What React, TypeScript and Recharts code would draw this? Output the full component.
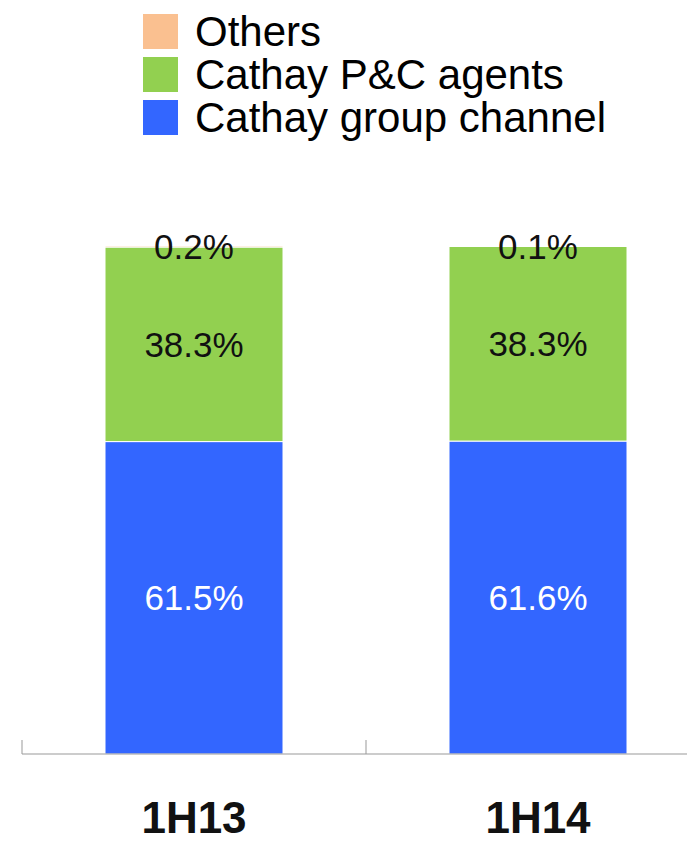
import { BarChart, Bar, XAxis, YAxis, Legend, LabelList } from 'recharts';

const periods = ['1H13', '1H14'];
const groupChannel = [61.5, 61.6];
const pcAgents = [38.3, 38.3];
const others = [0.2, 0.1];
const legendOrder = ['Others', 'Cathay P&C agents', 'Cathay group channel'];

const data = periods.map((p, i) => ({
    period: p,
    group: groupChannel[i],
    agents: pcAgents[i],
    others: others[i],
}));

const FONT = '"Liberation Sans", Arial, sans-serif';

const fmt = (v: any) => `${Number(v).toFixed(1)}%`;

const LegendBox = (props: any) => {
    const items = [...(props.payload || [])].sort(
        (a: any, b: any) => legendOrder.indexOf(a.value) - legendOrder.indexOf(b.value)
    );
    return (
        <div style={{ fontFamily: FONT, paddingLeft: 135, paddingTop: 2 }}>
            {items.map((it: any) => (
                <div key={it.value} style={{ display: 'flex', alignItems: 'center', height: 43 }}>
                    <span style={{ width: 35, height: 35, background: it.color, marginRight: 17, flex: 'none' }} />
                    <span style={{ fontSize: 42, color: '#000', lineHeight: '43px', whiteSpace: 'nowrap' }}>{it.value}</span>
                </div>
            ))}
        </div>
    );
};

// category label plus a short upward tick at the left edge of each category band
const PeriodTick = (props: any) => {
    const { x, y, payload } = props;
    const edge = x - (payload.offset || 0);
    return (
        <g>
            <line x1={edge} x2={edge} y1={y} y2={y - 14} stroke="#999" strokeWidth={1} />
            <text x={x} y={y + 79} textAnchor="middle" fontFamily={FONT} fontWeight="bold" fontSize={44} fill="#111">
                {payload.value}
            </text>
        </g>
    );
};

export default function App() {
    return (
        <div style={{ width: 687, height: 837, overflow: 'hidden' }}>
            <BarChart width={702} height={837} data={data} margin={{ top: 98, right: 0, left: 14, bottom: 0 }}>
                <XAxis
                    dataKey="period"
                    height={91}
                    stroke="#999"
                    tickLine={false}
                    tickSize={0}
                    tickMargin={0}
                    tick={<PeriodTick />}
                    interval={0}
                />
                <YAxis hide domain={[0, 100]} />
                <Legend
                    verticalAlign="top"
                    align="left"
                    content={<LegendBox />}
                    wrapperStyle={{ height: 140, width: 687, top: 0, left: 0 }}
                />
                <Bar dataKey="group" name="Cathay group channel" stackId="a" fill="#3366FF" stroke="#fff" strokeWidth={1} barSize={178} isAnimationActive={false}>
                    <LabelList dataKey="group" position="center" formatter={fmt} fill="#fff" fontSize={35} fontFamily={FONT} />
                </Bar>
                <Bar dataKey="agents" name="Cathay P&C agents" stackId="a" fill="#92D050" stroke="#fff" strokeWidth={1} barSize={178} isAnimationActive={false}>
                    <LabelList dataKey="agents" position="center" formatter={fmt} fill="#111" fontSize={35} fontFamily={FONT} />
                </Bar>
                <Bar dataKey="others" name="Others" stackId="a" fill="#FAC090" stroke="#fff" strokeWidth={1} barSize={178} isAnimationActive={false}>
                    <LabelList dataKey="others" position="center" formatter={fmt} fill="#111" fontSize={35} fontFamily={FONT} />
                </Bar>
            </BarChart>
        </div>
    );
}
